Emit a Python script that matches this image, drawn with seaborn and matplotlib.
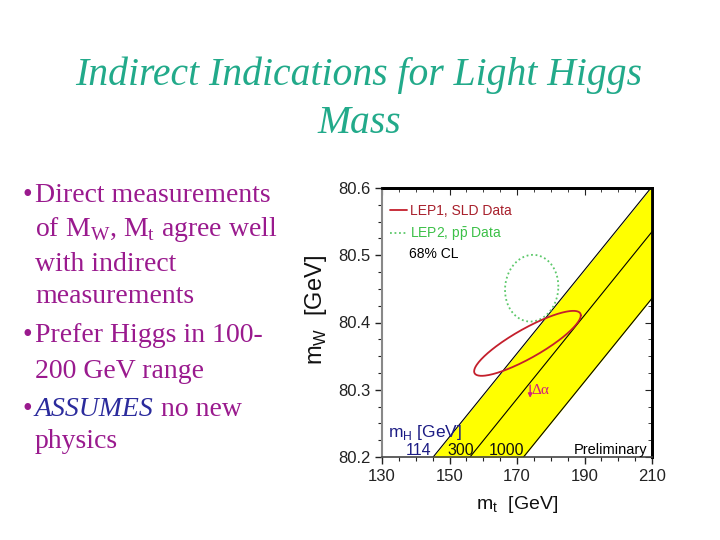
import numpy as np
import matplotlib
matplotlib.use("Agg")
import matplotlib.pyplot as plt
from matplotlib.ticker import MultipleLocator
import seaborn as sns

# axes
mt_ticks = [130, 150, 170, 190, 210]
mw_ticks = [80.2, 80.3, 80.4, 80.5, 80.6]

# SM band: mW read at mt = 130 and mt = 210 for each Higgs mass line
band_mt = [130, 210]
mh_labels = ["114", "300", "1000"]
band_mw_114 = [80.106, 80.602]
band_mw_300 = [80.038, 80.535]
band_mw_1000 = [79.940, 80.436]

# 68% CL contours: centre (mt, mW), half widths, correlation
lep1_centre = [173.1, 80.369]
lep1_width = [15.8, 0.0483]
lep1_rho = 0.86
lep2_centre = [174.35, 80.451]
lep2_width = [7.9, 0.0496]
lep2_rho = 0.05

# delta alpha shift arrow
dalpha_mt = [173.9, 173.9]
dalpha_mw = [80.307, 80.288]

title_lines = ["Indirect Indications for Light Higgs", "Mass"]

PURPLE = "#9a1a8e"
TEAL = "#22aa8a"


def cl_contour(centre, width, rho, n=241):
    t = np.linspace(0, 2 * np.pi, n)
    x = centre[0] + width[0] * np.cos(t)
    y = centre[1] + width[1] * (rho * np.cos(t) + np.sqrt(1 - rho ** 2) * np.sin(t))
    return x, y


sns.set_style("white")
plt.rcParams['font.family'] = ['Liberation Sans', 'DejaVu Sans']

fig = plt.figure(figsize=(7.2, 5.4), dpi=100)
fig.patch.set_facecolor("white")

# ---- slide title and bullets ----
fig.text(0.4986, 1 - 85 / 540, title_lines[0], ha="center", va="baseline",
         fontsize=28.5, style="italic", family="Liberation Serif", color=TEAL)
fig.text(0.4986, 1 - 133 / 540, title_lines[1], ha="center", va="baseline",
         fontsize=28.5, style="italic", family="Liberation Serif", color=TEAL)

serif = dict(fontsize=20, family="Liberation Serif", color=PURPLE, va="baseline")
bullet_x = 23 / 720
text_x = 35 / 720
lines = [
    (202, "Direct measurements", True),
    (235.5, r"of M$_\mathregular{W}$, M$_\mathregular{t}$ agree well", False),
    (271, "with indirect", False),
    (303, "measurements", False),
    (341.5, "Prefer Higgs in 100-", True),
    (377.5, "200 GeV range", False),
]
for ypix, s, bullet in lines:
    y = 1 - ypix / 540
    if bullet:
        fig.text(bullet_x, y, "\u2022", **serif)
    fig.text(text_x, y, s, **serif)

y = 1 - 416.5 / 540
fig.text(bullet_x, y, "\u2022", **serif)
t_ass = fig.text(text_x, y, "ASSUMES", fontsize=20, family="Liberation Serif",
                 style="italic", color="#2b2b9c", va="baseline")
fig.canvas.draw()
bb = t_ass.get_window_extent()
fig.text(bb.x1 / 720, y, " no new", **serif)
fig.text(text_x, 1 - 448 / 540, "physics", **serif)

# ---- the physics plot ----
ax = fig.add_axes([382 / 720, 1 - 457 / 540, 270 / 720, 269 / 540])

ax.fill_between(band_mt, band_mw_1000, band_mw_114, color="#ffff00", lw=0, zorder=1)
for mw in (band_mw_114, band_mw_300, band_mw_1000):
    sns.lineplot(x=band_mt, y=mw, color="black", lw=0.8, ax=ax, zorder=2)

x1, y1 = cl_contour(lep1_centre, lep1_width, lep1_rho)
x2, y2 = cl_contour(lep2_centre, lep2_width, lep2_rho)
sns.lineplot(x=x2, y=y2, sort=False, estimator=None, color="#5cc86a", lw=1.3,
             linestyle=(0, (1, 1.5)), ax=ax, zorder=3,
             label=r"LEP2, p$\bar{\mathregular{p}}$ Data")
sns.lineplot(x=x1, y=y1, sort=False, estimator=None, color="#c41f2c", lw=1.3,
             ax=ax, zorder=4, label="LEP1, SLD Data")

handles, labels = ax.get_legend_handles_labels()
leg = ax.legend(handles[::-1], labels[::-1], loc="upper left",
                bbox_to_anchor=(8 / 270, 0.94), frameon=False, fontsize=10,
                handlelength=1.25, handletextpad=0.2, borderpad=0,
                borderaxespad=0, labelspacing=0.5)
leg.get_texts()[0].set_color("#a8202c")
leg.get_texts()[1].set_color("#3cc048")
ax.text(138.0, 80.502, "68% CL", fontsize=10, color="black", va="center")

ax.annotate("", xy=(dalpha_mt[1], dalpha_mw[1]), xytext=(dalpha_mt[0], dalpha_mw[0]),
            arrowprops=dict(arrowstyle="-|>", color="#d0207f", lw=1.0,
                            mutation_scale=6, shrinkA=0, shrinkB=0), zorder=5)
ax.text(174.4, 80.299, "\u0394\u03b1", fontsize=11, family="Liberation Serif",
        color="#d0207f", va="center", ha="left")

ax.text(131.8, 80.236, r"m$_\mathregular{H}$ [GeV]", fontsize=12.5,
        color="#1c1c84", va="center")
mh_pos = [140.8, 153.3, 167.0]
mh_cols = ["#1c1c84", "#111111", "#111111"]
for s, xm, c in zip(mh_labels, mh_pos, mh_cols):
    ax.text(xm, 80.2095, s, fontsize=11.5, color=c, ha="center", va="center")
ax.text(208.6, 80.2105, "Preliminary", fontsize=10.5, color="black",
        ha="right", va="center")

ax.set_xlim(130, 210)
ax.set_ylim(80.2, 80.6)
ax.set_xticks(mt_ticks)
ax.set_yticks(mw_ticks)
ax.set_yticklabels([f"{v:.1f}" for v in mw_ticks])
ax.xaxis.set_minor_locator(MultipleLocator(5))
ax.yaxis.set_minor_locator(MultipleLocator(0.025))
ax.tick_params(which="both", direction="out", bottom=True, left=True,
               labelsize=12, colors="#222222")
ax.tick_params(which="major", length=5, width=1)
ax.tick_params(which="minor", length=3, width=0.8)

sec_x = ax.secondary_xaxis("top")
sec_x.set_xticks(mt_ticks)
sec_x.set_xticklabels([])
sec_x.xaxis.set_minor_locator(MultipleLocator(5))
sec_x.tick_params(which="both", direction="in", color="#222222")
sec_x.tick_params(which="major", length=5)
sec_x.tick_params(which="minor", length=3)
sec_x.spines["top"].set_linewidth(2)
sec_x.spines["top"].set_color("black")

sec_y = ax.secondary_yaxis("right")
sec_y.set_yticks(mw_ticks)
sec_y.set_yticklabels([])
sec_y.yaxis.set_minor_locator(MultipleLocator(0.025))
sec_y.tick_params(which="both", direction="in", color="#222222")
sec_y.tick_params(which="major", length=5)
sec_y.tick_params(which="minor", length=3)
sec_y.spines["right"].set_linewidth(2)
sec_y.spines["right"].set_color("black")

ax.spines["top"].set_linewidth(2)
ax.spines["top"].set_color("black")
ax.spines["right"].set_linewidth(2)
ax.spines["right"].set_color("black")
ax.spines["left"].set_color("#888888")
ax.spines["left"].set_linewidth(1.5)
ax.spines["bottom"].set_color("#444444")
ax.spines["bottom"].set_linewidth(1.2)

ax.set_xlabel(r"m$_\mathregular{t}$  [GeV]", fontsize=14, labelpad=7, color="#111111")
ax.set_ylabel(r"m$_\mathregular{W}$  [GeV]", fontsize=17, labelpad=6, color="#111111")
ax.yaxis.label.set_y(0.546)

fig.savefig("out.png", dpi=100, facecolor="white")
